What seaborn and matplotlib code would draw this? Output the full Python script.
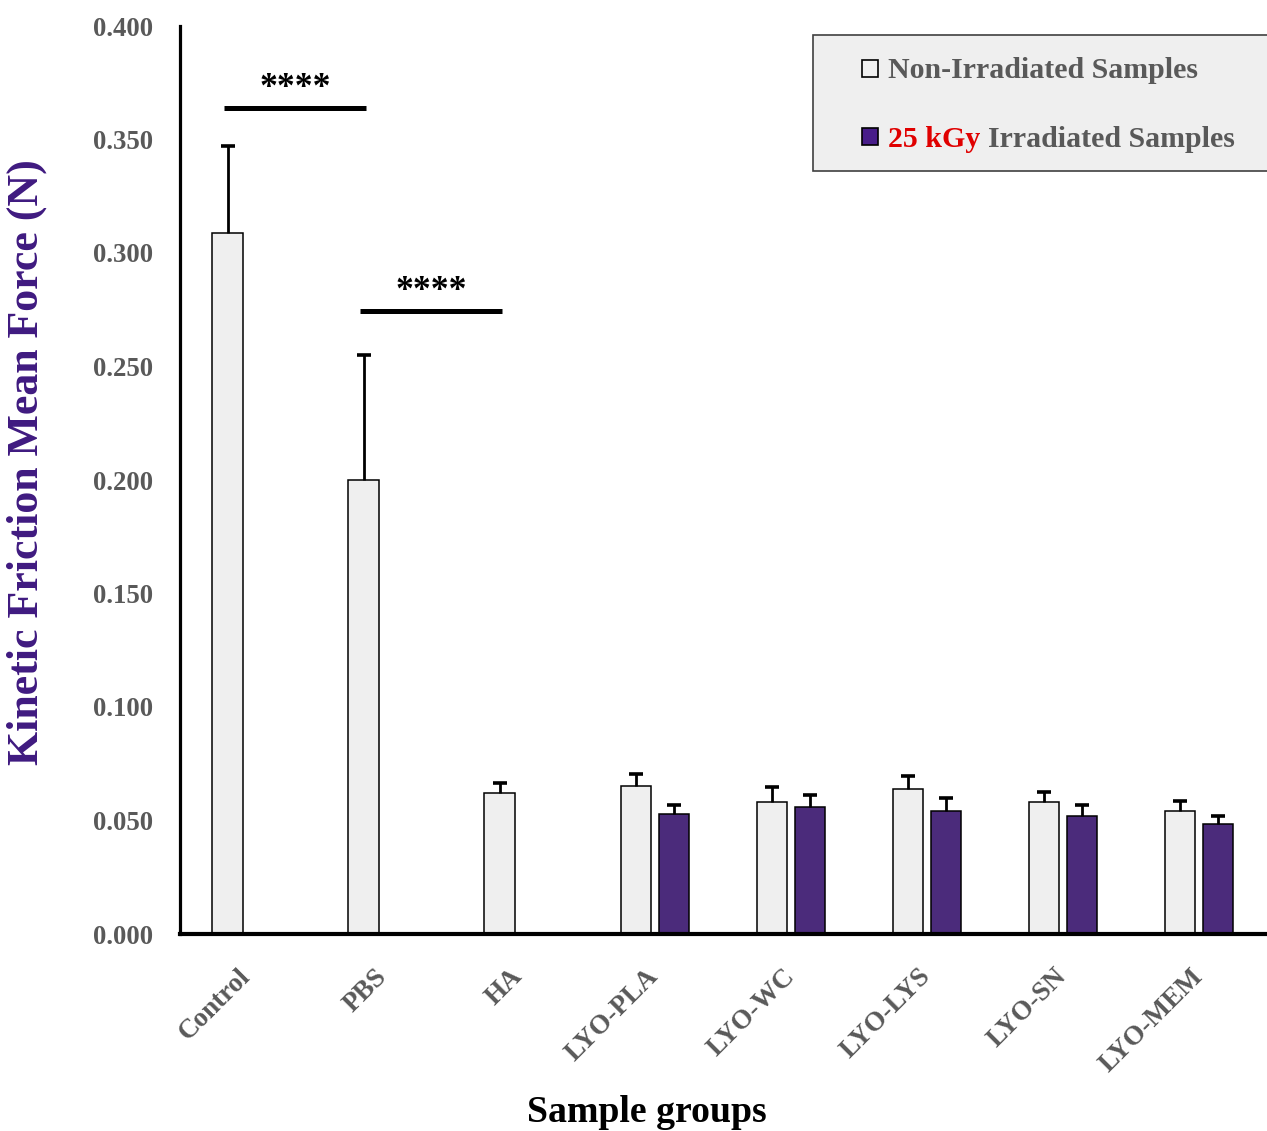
import numpy as np
import pandas as pd
import matplotlib
matplotlib.use("Agg")
import matplotlib.pyplot as plt
from matplotlib.patches import Rectangle
from matplotlib.container import BarContainer
import seaborn as sns

# ---- data ----
groups = ["Control", "PBS", "HA", "LYO-PLA", "LYO-WC", "LYO-LYS", "LYO-SN", "LYO-MEM"]
conditions = ["Non-Irradiated Samples", "25 kGy Irradiated Samples"]
non_irr_mean = [0.309, 0.200, 0.062, 0.065, 0.058, 0.064, 0.058, 0.054]
non_irr_err = [0.038, 0.055, 0.0044, 0.0057, 0.0068, 0.0057, 0.0047, 0.0044]
irr_mean = [np.nan, np.nan, np.nan, 0.053, 0.056, 0.054, 0.052, 0.0485]
irr_err = [np.nan, np.nan, np.nan, 0.004, 0.0053, 0.006, 0.0048, 0.0034]
yticks = [0.0, 0.05, 0.1, 0.15, 0.2, 0.25, 0.3, 0.35, 0.4]
sig_pairs = [(0, 1, 0.364, "****"), (1, 2, 0.2745, "****")]

non_color = "#efefef"
irr_color = "#481d89"
tick_gray = "#595959"
label_purple = "#3f1a80"

rows = []
for g, m, e in zip(groups, non_irr_mean, non_irr_err):
    rows.append(dict(group=g, cond=conditions[0], value=m, err=e))
for g, m, e in zip(groups, irr_mean, irr_err):
    rows.append(dict(group=g, cond=conditions[1], value=m, err=e))
df = pd.DataFrame(rows).dropna()

sns.set_style("white")
plt.rcParams["font.family"] = ["Liberation Serif", "DejaVu Serif"]
plt.rcParams["font.weight"] = "bold"

W, H = 1267, 1131
fig = plt.figure(figsize=(W / 100, H / 100), dpi=100)
ax = fig.add_axes([180 / W, 1 - 934 / H, 1 - 180 / W, (934 - 26) / H])

sns.barplot(data=df, x="group", y="value", hue="cond", order=groups,
            hue_order=conditions, palette=[non_color, irr_color],
            width=0.56, gap=0.2, errorbar=None, edgecolor="black",
            linewidth=1.1, legend=False, ax=ax, zorder=2)

# error bars (upper only)
errs = {0: non_irr_err, 1: irr_err}
bar_pos = {}
bar_containers = [c for c in ax.containers if isinstance(c, BarContainer)]
for hi, cont in enumerate(bar_containers):
    for bar in cont:
        if bar is None:
            continue
        h = bar.get_height()
        if not np.isfinite(h):
            continue
        cx = bar.get_x() + bar.get_width() / 2
        gi = int(round(cx))
        e = errs[hi][gi]
        bar_pos[(hi, gi)] = cx
        _, caps, _ = ax.errorbar(cx, h, yerr=[[0], [e]], fmt="none", ecolor="black",
                                 elinewidth=2.0, capsize=5, capthick=2.6, zorder=3)
        for cl in caps:
            if np.isclose(cl.get_ydata()[0], h):
                cl.set_visible(False)

ax.set_xlim(-0.49, 7.5)
ax.set_ylim(0, 0.4)
ax.set_yticks(yticks)
ax.set_yticklabels([f"{t:.3f}" for t in yticks])
ax.tick_params(axis="y", length=0, pad=19.4, labelsize=19, labelcolor=tick_gray)
ax.tick_params(axis="x", length=0, pad=28, labelsize=19, labelcolor=tick_gray)
for lab in ax.get_xticklabels():
    lab.set_rotation(45)
    lab.set_ha("right")
    lab.set_va("center")
    lab.set_rotation_mode("anchor")

for s in ["top", "right"]:
    ax.spines[s].set_visible(False)
ax.spines["left"].set_linewidth(2.3)
ax.spines["bottom"].set_linewidth(3)
ax.spines["left"].set_color("black")
ax.spines["bottom"].set_color("black")

ax.set_xlabel("Sample groups", fontsize=24, fontweight="bold", color="black")
ax.set_ylabel("Kinetic Friction Mean Force (N)", fontsize=30, fontweight="bold",
              color=label_purple)
ax.yaxis.set_label_coords(-(180 - 47) / (W - 180), 0.5 + (480 - 462) / (934 - 26))
ax.xaxis.set_label_coords((647 - 180) / (W - 180), -(1095 - 934) / (934 - 26))

# significance annotations
star_texts = []
for a, b, yv, txt in sig_pairs:
    xa = bar_pos[(0, a)]
    xb = bar_pos[(0, b)]
    ax.plot([xa - 0.03, xb + 0.02], [yv, yv], color="black", lw=3.6,
            solid_capstyle="butt", zorder=4)
    star_texts.append(ax.text((xa + xb) / 2, yv + 0.0085, txt, ha="center",
                              va="center", fontsize=24, fontweight="bold",
                              color="black"))

# manual legend (mixed-colour label)
fig.patches.append(Rectangle((813 / W, 1 - 171 / H), 0.5, 136 / H,
                             transform=fig.transFigure, facecolor="#efefef",
                             edgecolor="#404040", lw=1.2, zorder=5))
for yc, fc in [(68.5, non_color), (136.5, irr_color)]:
    fig.patches.append(Rectangle((862 / W, 1 - (yc + 8) / H), 16 / W, 16 / H,
                                 transform=fig.transFigure, facecolor=fc,
                                 edgecolor="black", lw=1.2, zorder=6))
leg_fs = 20
lt1 = fig.text(888 / W, 1 - 78 / H, "Non-Irradiated Samples", fontsize=leg_fs,
               fontweight="bold", color=tick_gray, va="baseline", ha="left", zorder=7)
t1 = fig.text(888 / W, 1 - 147 / H, "25 kGy", fontsize=leg_fs, fontweight="bold",
              color="#e00000", va="baseline", ha="left", zorder=7)

# ---- fit text sizes to the measured reference extents ----
fig.canvas.draw()
r = fig.canvas.get_renderer()

def scale_for(t, target, dim="w"):
    bb = t.get_window_extent(renderer=r)
    cur = bb.width if dim == "w" else bb.height
    return t.get_fontsize() * target / cur

ys = scale_for(ax.get_yticklabels()[-1], 60)
xs = scale_for(ax.get_xticklabels()[0], 80)
ax.tick_params(axis="y", labelsize=ys)
ax.tick_params(axis="x", labelsize=xs)
ax.yaxis.label.set_fontsize(scale_for(ax.yaxis.label, 605, "h"))
ax.xaxis.label.set_fontsize(scale_for(ax.xaxis.label, 240))
for st in star_texts:
    st.set_fontsize(scale_for(st, 72))
lfs = scale_for(lt1, 309)
lt1.set_fontsize(lfs)
t1.set_fontsize(lfs)

fig.canvas.draw()
bb = t1.get_window_extent(renderer=r)
fig.text(bb.x1 / W + 8 / W, 1 - 147 / H, "Irradiated Samples", fontsize=lfs,
         fontweight="bold", color=tick_gray, va="baseline", ha="left", zorder=7)

fig.savefig("out.png", dpi=100)
